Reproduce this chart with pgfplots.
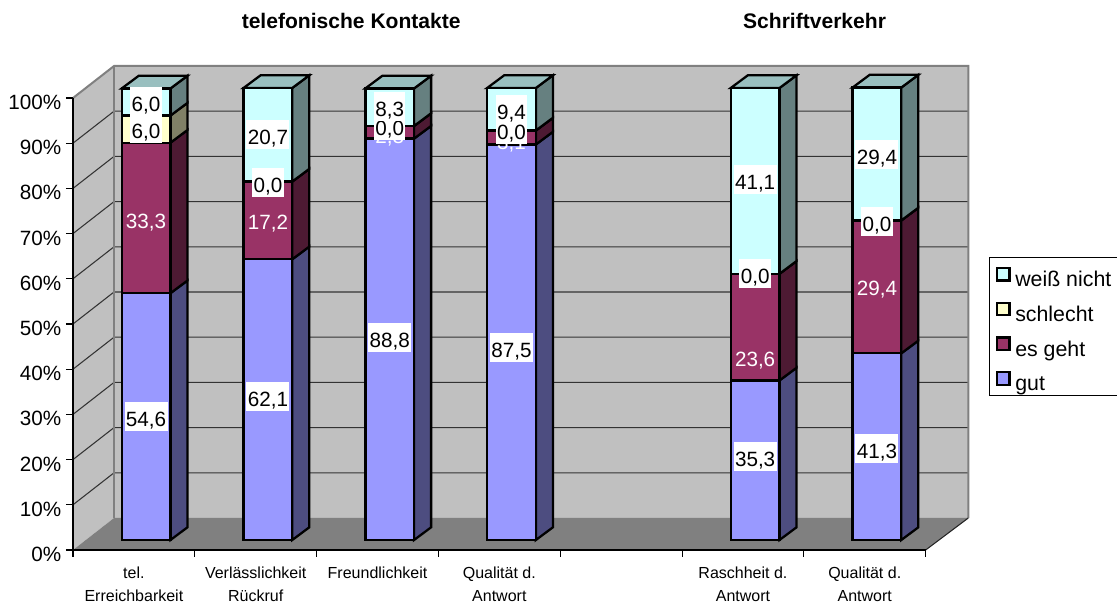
\documentclass[border=0pt]{standalone}
\usepackage{pgfplots}
\usepackage{pgfplotstable}
\pgfplotsset{compat=1.18}
\usepackage{fontspec}
\setmainfont{Liberation Sans}
\definecolor{wall}{HTML}{C0C0C0}
\definecolor{floorc}{HTML}{808080}
\definecolor{gut}{HTML}{9999FF}
\definecolor{gutS}{HTML}{4D4D80}
\definecolor{geht}{HTML}{993366}
\definecolor{gehtS}{HTML}{4D1A33}
\definecolor{schl}{HTML}{FFFFCC}
\definecolor{schlS}{HTML}{808066}
\definecolor{weiss}{HTML}{CCFFFF}
\definecolor{weissS}{HTML}{668080}
\definecolor{weissT}{HTML}{99BFBF}
\pgfplotstableread{
x   gut  geht schlecht weiss
0.6 54.6 33.3 6.0 6.0
1.6 62.1 17.2 0.0 20.7
2.6 88.8 2.8  0.0 8.3
3.6 87.5 3.1  0.0 9.4
5.6 35.3 23.6 0.0 41.1
6.6 41.3 29.4 0.0 29.4
}\datatable
\newcommand\fs{\fontsize{15.5pt}{18pt}\selectfont}
\newcommand\sideface[4]{% c, lo, hi, colour
  \pgfmathsetmacro\xa{#1+0.2}\pgfmathsetmacro\xb{#1+0.34}
  \pgfmathsetmacro\ya{#2+2.21}\pgfmathsetmacro\yb{#2+5.02}
  \pgfmathsetmacro\yc{#3+5.02}\pgfmathsetmacro\yd{#3+2.21}
  \edef\temp{\noexpand\addplot[fill=#4,draw=black,line width=1.7pt,forget plot] coordinates {(\xa,\ya)(\xb,\yb)(\xb,\yc)(\xa,\yd)} -- cycle;}\temp}
\newcommand\topface[2]{% c, H
  \pgfmathsetmacro\xa{#1-0.2}\pgfmathsetmacro\xb{#1+0.2}
  \pgfmathsetmacro\xc{#1+0.34}\pgfmathsetmacro\xd{#1-0.06}
  \pgfmathsetmacro\ya{#2+2.21}\pgfmathsetmacro\yb{#2+5.02}
  \edef\temp{\noexpand\addplot[fill=weissT,draw=black,line width=1.7pt,forget plot] coordinates {(\xa,\ya)(\xb,\ya)(\xc,\yb)(\xd,\yb)} -- cycle;}\temp}
\newcommand\stackbar[5]{% c, gut, geht, schlecht, weiss
  \pgfmathsetmacro\sa{#2}
  \sideface{#1}{0}{\sa}{gutS}
  \pgfmathsetmacro\sa{#2}\pgfmathsetmacro\sb{#2+#3}
  \sideface{#1}{\sa}{\sb}{gehtS}
  \pgfmathsetmacro\sb{#2+#3}\pgfmathsetmacro\sc{#2+#3+#4}
  \sideface{#1}{\sb}{\sc}{schlS}
  \pgfmathsetmacro\sc{#2+#3+#4}\pgfmathsetmacro\sd{#2+#3+#4+#5}
  \sideface{#1}{\sc}{\sd}{weissS}
  \pgfmathsetmacro\sd{#2+#3+#4+#5}
  \topface{#1}{\sd}}
\newcommand\gridl[2]{\addplot[black!80,line width=0.8pt,forget plot] coordinates {(0,#1)(0.337,#2)(7.35,#2)};}
% #2 = pixel height of the centre of the digits in the picture
\newcommand\blab[3]{\node[anchor=base,fill=white,inner xsep=1pt,inner ysep=0pt,text height=18.7pt,text depth=2.8pt,font=\fs] at (axis cs:#1,{(540-(#2+7))/4.52}) {#3};}
\newcommand\wlab[3]{\node[anchor=base,text=white,inner sep=0pt,font=\fs] at (axis cs:#1,{(540-(#2+7))/4.52}) {#3};}
\begin{document}
\begin{tikzpicture}
\path[use as bounding box] (-54.75pt,-41.25pt) rectangle (783pt,412.5pt);
\begin{axis}[
  at={(0pt,0pt)},anchor=south west,
  scale only axis,width=639.5pt,height=339pt,
  xmin=0,xmax=7,ymin=0,ymax=100,
  clip=false,axis on top,
  axis x line*=bottom,axis y line*=left,
  axis line style={-,black,line width=0.8pt},
  tick align=outside,major tick length=5.25pt,
  tick style={black,line width=0.8pt},
  xtick={0,1,2,3,4,5,6,7},
  x tick label as interval,
  xticklabels={{tel.\\Erreichbarkeit},{Verlässlichkeit\\Rückruf},{Freundlichkeit},{Qualität d.\\Antwort},{},{Raschheit d.\\Antwort},{Qualität d.\\Antwort}},
  xticklabel style={align=center,font=\fontsize{12pt}{17pt}\selectfont,yshift=-4pt},
  ytick={0,10,20,30,40,50,60,70,80,90,100},
  yticklabel={\pgfmathprintnumber{\tick}\%},
  yticklabel style={font=\fs,yshift=-3.3pt,/pgf/number format/assume math mode=true},
]
\addplot[fill=wall,draw=none,forget plot] coordinates {(0,0)(0.337,7.08)(0.337,107.08)(0,100)} -- cycle;
\addplot[fill=wall,draw=none,forget plot] coordinates {(0.337,7.08)(7.35,7.08)(7.35,107.08)(0.337,107.08)} -- cycle;
\gridl{10}{17.08}\gridl{20}{27.08}\gridl{30}{37.08}\gridl{40}{47.08}\gridl{50}{57.08}
\gridl{60}{67.08}\gridl{70}{77.08}\gridl{80}{87.08}\gridl{90}{97.08}
\addplot[draw=floorc,line width=1.5pt,forget plot] coordinates {(0,100)(0.337,107.08)(7.35,107.08)(7.35,7.08)};
\addplot[draw=floorc,line width=1.5pt,forget plot] coordinates {(0.337,107.08)(0.337,7.08)};
\addplot[fill=floorc,draw=none,forget plot] coordinates {(0,0)(7,0)(7.35,7.08)(0.337,7.08)} -- cycle;
\addplot[draw=black!85,line width=0.8pt,forget plot] coordinates {(7,0)(7.35,7.08)};
\stackbar{0.6}{54.6}{33.3}{6.0}{6.0}
\stackbar{1.6}{62.1}{17.2}{0.0}{20.7}
\stackbar{2.6}{88.8}{2.8}{0.0}{8.3}
\stackbar{3.6}{87.5}{3.1}{0.0}{9.4}
\stackbar{5.6}{35.3}{23.6}{0.0}{41.1}
\stackbar{6.6}{41.3}{29.4}{0.0}{29.4}
\node[font=\bfseries\fontsize{15.8pt}{18pt}\selectfont] at (axis cs:2.284,117.1) {telefonische Kontakte};
\node[font=\bfseries\fontsize{15.8pt}{18pt}\selectfont] at (axis cs:6.088,117.1) {Schriftverkehr};
\end{axis}
\begin{axis}[
  at={(0pt,7.5pt)},anchor=south west,
  scale only axis,width=639.5pt,height=339pt,
  xmin=0,xmax=7,ymin=0,ymax=100,
  clip=false,hide axis,
  ybar stacked,bar width=36.5pt,
]
\addplot[fill=gut,draw=black,line width=1.7pt] table[x=x,y=gut]{\datatable};
\addplot[fill=geht,draw=black,line width=1.7pt] table[x=x,y=geht]{\datatable};
\addplot[fill=schl,draw=black,line width=1.7pt] table[x=x,y=schlecht]{\datatable};
\addplot[fill=weiss,draw=black,line width=1.7pt] table[x=x,y=weiss]{\datatable};
\end{axis}
\begin{axis}[
  at={(0pt,7.5pt)},anchor=south west,
  scale only axis,width=639.5pt,height=339pt,
  xmin=0,xmax=7,ymin=0,ymax=100,
  clip=false,hide axis,
  legend style={at={(1.074,0.617)},anchor=north west,draw=none,
    fill=none,font=\fontsize{16pt}{18pt}\selectfont,inner xsep=5pt,inner ysep=4pt,
    nodes={inner sep=0pt,text height=11pt,text depth=3pt},
    row sep=8.25pt,column sep=3.5pt},
  legend cell align=left,
  legend image code/.code={\draw[#1,line width=1.7pt] (0pt,0.5pt) rectangle (9.5pt,10pt);},
]
\addlegendimage{fill=weiss,draw=black}\addlegendentry{weiß nicht\hspace{8pt}}
\addlegendimage{fill=schl,draw=black}\addlegendentry{schlecht}
\addlegendimage{fill=geht,draw=black}\addlegendentry{es geht}
\addlegendimage{fill=gut,draw=black}\addlegendentry{gut}
\draw[black,line width=0.6pt] (axis cs:8.64,62.6) -- (axis cs:7.52,62.6) -- (axis cs:7.52,32.08) -- (axis cs:8.64,32.08);
% gut
\blab{0.6}{420}{54,6}\blab{1.6}{400}{62,1}\blab{2.6}{341}{88,8}\blab{3.6}{351}{87,5}\blab{5.6}{460}{35,3}\blab{6.6}{452}{41,3}
% es geht
\wlab{0.6}{222}{33,3}\wlab{1.6}{223}{17,2}\wlab{2.6}{137}{2,8}\wlab{3.6}{143}{3,1}\wlab{5.6}{360}{23,6}\wlab{6.6}{289}{29,4}
% schlecht
\blab{0.6}{132}{6,0}\blab{1.6}{186}{0,0}\blab{2.6}{129}{0,0}\blab{3.6}{133}{0,0}\blab{5.6}{277}{0,0}\blab{6.6}{225}{0,0}
% weiss nicht
\blab{0.6}{105}{6,0}\blab{1.6}{138}{20,7}\blab{2.6}{110}{8,3}\blab{3.6}{113}{9,4}\blab{5.6}{183}{41,1}\blab{6.6}{158}{29,4}
\end{axis}
\end{tikzpicture}
\end{document}
